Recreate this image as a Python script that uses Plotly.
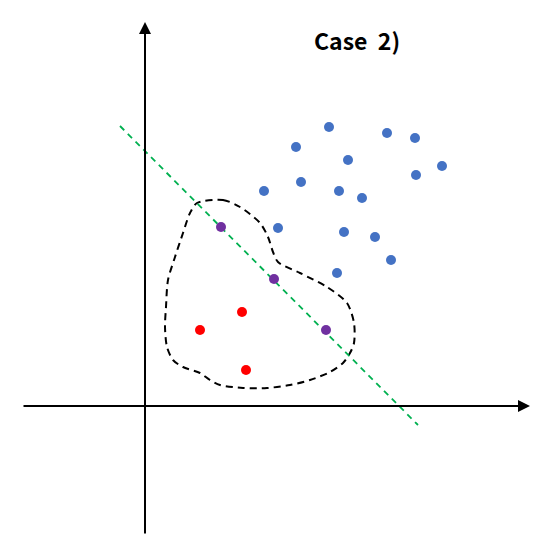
import plotly.graph_objects as go

# Data coordinates: origin at the axes crossing, y up
blue_x = [184, 242, 270, 151, 203, 297, 271, 156, 119, 194, 217, 133, 199, 230, 246, 192]
blue_y = [279, 273, 268, 259, 246, 240, 231, 224, 215, 215, 208, 178, 174, 169, 146, 133]

purple_x = [76, 129, 181]
purple_y = [179, 127, 76]

red_x = [97, 55, 101]
red_y = [94, 76, 36]

# boundary (dashed closed curve)
curve_x = [52, 78, 95, 115, 123, 128, 133, 155, 182, 202, 209, 209, 205, 198, 185, 165, 145, 122, 98, 75, 65, 55, 38, 28, 22, 20, 21, 23, 30, 38, 45, 52]
curve_y = [203, 206, 199, 183, 169, 154, 144, 133, 119, 103, 83, 63, 53, 43, 34, 26, 21, 18, 18, 21, 26, 33, 39, 46, 59, 79, 99, 126, 149, 173, 193, 203]

# decision line endpoints
line_x = [-25, 273]
line_y = [280, -19]

# axes arrows
xaxis_x = [-123, 385]
yaxis_y = [-129, 384]

fig = go.Figure()

fig.add_trace(go.Scatter(x=curve_x, y=curve_y, mode="lines",
                         line=dict(color="black", width=2, dash="7px,5px", shape="spline", smoothing=0.8),
                         hoverinfo="skip", showlegend=False))
fig.add_trace(go.Scatter(x=line_x, y=line_y, mode="lines",
                         line=dict(color="#00B050", width=1.8, dash="6px,5px"),
                         hoverinfo="skip", showlegend=False))
fig.add_trace(go.Scatter(x=blue_x, y=blue_y, mode="markers",
                         marker=dict(color="#4472C4", size=10), showlegend=False))
fig.add_trace(go.Scatter(x=purple_x, y=purple_y, mode="markers",
                         marker=dict(color="#7030A0", size=10), showlegend=False))
fig.add_trace(go.Scatter(x=red_x, y=red_y, mode="markers",
                         marker=dict(color="#FF0000", size=10), showlegend=False))

# axes with arrowheads
fig.add_annotation(x=xaxis_x[1], y=0, ax=xaxis_x[0], ay=0, xref="x", yref="y",
                   axref="x", ayref="y", showarrow=True, arrowhead=2, arrowsize=1.2,
                   arrowwidth=2, arrowcolor="black", text="")
fig.add_annotation(x=0, y=yaxis_y[1], ax=0, ay=yaxis_y[0], xref="x", yref="y",
                   axref="x", ayref="y", showarrow=True, arrowhead=2, arrowsize=1.2,
                   arrowwidth=2, arrowcolor="black", text="")

fig.add_annotation(x=212, y=366, xref="x", yref="y", text="<b>Case&nbsp; 2)</b>", showarrow=False,
                   font=dict(family="Noto Sans CJK KR, Open Sans, sans-serif", size=23, color="black"))

fig.update_layout(width=544, height=541, margin=dict(l=0, r=0, t=0, b=0),
                  plot_bgcolor="white", paper_bgcolor="white",
                  xaxis=dict(range=[-137, 407], visible=False, fixedrange=True),
                  yaxis=dict(range=[-143, 398], visible=False, fixedrange=True))

fig.write_html("out.html")
